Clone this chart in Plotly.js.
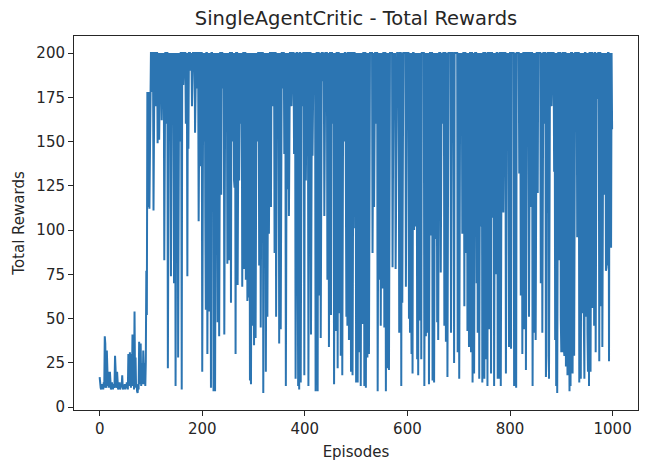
<!DOCTYPE html>
<html>
<head>
<meta charset="utf-8">
<script src="https://cdn.plot.ly/plotly-3.0.1.min.js"></script>
<style>
  html, body { margin: 0; padding: 0; background: #fff; }
  #chart { width: 648px; height: 461px; }
</style>
</head>
<body>
<div id="chart"></div>
<script>
// Total reward per training episode (1000 episodes, 10 per row)
const rewards = [
  17,12,11,10,13,11,12,10,14,11,
  40,36,12,11,32,15,12,20,11,13,
  20,12,10,11,14,12,10,13,11,12,
  29,22,11,12,20,13,10,11,12,14,
  10,11,13,12,18,11,10,12,11,13,
  10,12,11,14,12,10,30,12,20,31,
  13,11,30,14,41,12,22,10,54,16,
  28,11,13,9,8,12,10,37,15,13,
  36,12,25,14,13,32,15,13,25,12,
  26,77,52,178,113,178,178,112,160,200,
  200,200,178,200,200,111,200,200,200,185,
  170,200,200,149,200,200,151,200,200,190,
  200,162,200,200,175,200,83,200,200,200,
  160,200,200,22,200,200,180,200,200,74,
  200,200,166,200,200,70,200,200,12,200,
  200,175,200,28,200,200,150,200,200,200,
  10,200,200,182,200,200,200,200,160,200,
  200,74,200,146,200,200,200,190,200,200,
  170,200,200,200,200,200,155,200,200,200,
  180,200,200,105,200,200,200,136,200,200,
  20,200,200,150,200,200,107,55,200,200,
  30,200,200,54,200,200,160,11,200,200,
  140,200,9,200,200,9,200,200,150,200,
  48,200,200,40,200,200,200,120,200,200,
  180,200,200,41,200,200,180,200,200,81,
  200,200,83,200,200,200,59,200,200,150,
  200,200,128,124,200,30,200,200,200,69,
  200,200,128,200,200,160,200,200,68,200,
  200,200,78,200,200,72,200,200,60,200,
  200,62,200,15,200,13,200,200,46,200,
  200,35,200,200,39,200,200,150,200,200,
  200,80,200,200,45,200,200,200,200,8,
  200,200,140,200,20,200,200,51,200,200,
  98,200,200,200,113,200,200,170,200,200,
  200,87,200,200,51,200,200,160,200,200,
  36,200,200,44,200,200,200,180,200,200,
  143,200,200,12,200,200,123,200,200,108,
  200,200,200,200,170,200,200,200,200,143,
  200,200,16,155,200,200,143,12,200,10,
  200,200,14,200,200,170,200,200,200,18,
  200,200,128,200,200,200,200,12,200,200,
  200,200,41,200,200,142,200,200,180,200,
  200,9,200,200,200,9,200,200,63,200,
  200,39,200,200,200,200,184,200,108,200,
  200,200,200,200,72,200,200,34,200,200,
  200,52,200,200,160,200,200,13,200,200,
  43,200,200,200,22,200,200,53,200,200,
  29,200,200,18,200,200,150,200,200,200,
  72,51,200,46,200,200,38,200,200,200,
  20,200,200,18,200,200,200,200,101,200,
  14,200,200,14,200,200,31,200,200,12,
  200,200,47,200,200,200,12,200,200,11,
  200,200,28,200,200,30,200,200,200,200,
  200,200,87,200,200,113,200,200,200,160,
  200,200,9,200,200,72,200,200,46,200,
  200,67,200,200,200,45,200,200,9,200,
  200,22,200,200,21,200,200,200,200,200,
  200,79,200,200,170,200,200,78,144,200,
  200,200,190,200,42,200,200,200,12,200,
  59,200,200,200,200,200,200,68,200,200,
  200,200,200,50,200,42,200,76,30,200,
  19,200,200,100,200,200,102,200,200,27,
  200,18,200,132,200,49,200,27,200,200,
  200,200,200,12,90,200,40,200,200,42,
  200,200,13,200,200,200,97,200,200,15,
  200,200,14,200,200,95,200,200,48,200,
  38,200,200,200,200,76,200,200,160,200,
  200,200,46,200,200,37,200,200,17,200,
  200,200,200,200,200,42,200,200,200,150,
  200,25,200,200,200,200,200,200,31,200,
  200,16,200,200,170,200,200,98,200,200,
  200,57,200,200,87,200,200,43,200,200,
  34,200,200,200,31,200,200,14,200,200,
  19,200,200,200,200,70,200,42,200,200,
  16,200,200,102,200,200,14,200,200,200,
  16,200,200,27,48,200,12,200,200,44,
  200,200,200,19,200,200,107,200,200,12,
  200,200,75,200,200,200,16,29,200,16,
  200,200,12,200,200,200,200,110,200,200,
  200,200,19,200,200,149,200,200,34,200,
  200,200,33,200,200,200,200,200,12,200,
  200,19,11,200,200,200,200,200,132,200,
  200,63,200,200,30,200,200,200,44,200,
  200,21,200,200,200,200,200,51,200,200,
  200,113,200,200,12,200,200,42,200,200,
  38,200,200,200,121,200,200,200,200,200,
  70,200,200,42,200,200,200,160,200,200,
  17,29,200,110,200,200,16,200,200,200,
  200,170,200,200,200,200,133,200,38,200,
  12,200,8,200,200,200,83,200,200,50,
  31,200,31,200,200,33,29,200,200,23,
  200,200,18,200,200,67,9,200,12,200,
  200,200,19,200,200,29,200,200,200,200,
  200,96,108,200,200,14,200,200,16,200,
  200,53,200,200,46,16,200,200,51,200,
  200,42,20,200,12,200,200,20,200,200,
  200,56,78,200,46,200,200,31,200,200,
  174,200,200,200,26,200,200,57,76,200,
  34,111,200,150,200,120,200,77,79,200,
  80,200,200,26,200,120,200,90,200,157
];

// Episode index for each reward
const episodes = rewards.map((_, i) => i);

const xTicks = [0, 200, 400, 600, 800, 1000];
const yTicks = [0, 25, 50, 75, 100, 125, 150, 175, 200];

const chartTitle = 'SingleAgentCritic - Total Rewards';
const xLabel = 'Episodes';
const yLabel = 'Total Rewards';

const FONT = '"DejaVu Sans", "Liberation Sans", sans-serif';
const INK = '#262626';

const trace = {
  x: episodes,
  y: rewards,
  type: 'scatter',
  mode: 'lines',
  line: { color: 'rgb(44,117,178)', width: 2.0 },
  hoverinfo: 'x+y'
};

const axisCommon = {
  showgrid: false,
  zeroline: false,
  showline: true,
  mirror: true,
  linecolor: INK,
  linewidth: 1,
  ticks: 'outside',
  ticklen: 5,
  tickwidth: 1,
  tickcolor: INK,
  tickfont: { family: FONT, size: 15, color: INK }
};

const layout = {
  width: 648,
  height: 461,
  margin: { l: 74, r: 10, t: 36, b: 51, pad: 0 },
  paper_bgcolor: '#ffffff',
  plot_bgcolor: '#ffffff',
  showlegend: false,
  title: {
    text: chartTitle,
    font: { family: FONT, size: 19.5, color: INK },
    x: 0.5, xref: 'paper', xanchor: 'center',
    y: 1 - 18 / 461, yref: 'container', yanchor: 'middle'
  },
  xaxis: Object.assign({}, axisCommon, {
    range: [-50, 1049.5],
    tickmode: 'array',
    tickvals: xTicks,
    ticktext: xTicks.map(String),
    title: { text: xLabel, font: { family: FONT, size: 15, color: INK }, standoff: 9 }
  }),
  yaxis: Object.assign({}, axisCommon, {
    range: [-1.6, 209.6],
    tickmode: 'array',
    tickvals: yTicks,
    ticktext: yTicks.map(String),
    title: { text: yLabel, font: { family: FONT, size: 15, color: INK }, standoff: 8 }
  })
};

Plotly.newPlot('chart', [trace], layout, { displayModeBar: false, staticPlot: true });
</script>
</body>
</html>
